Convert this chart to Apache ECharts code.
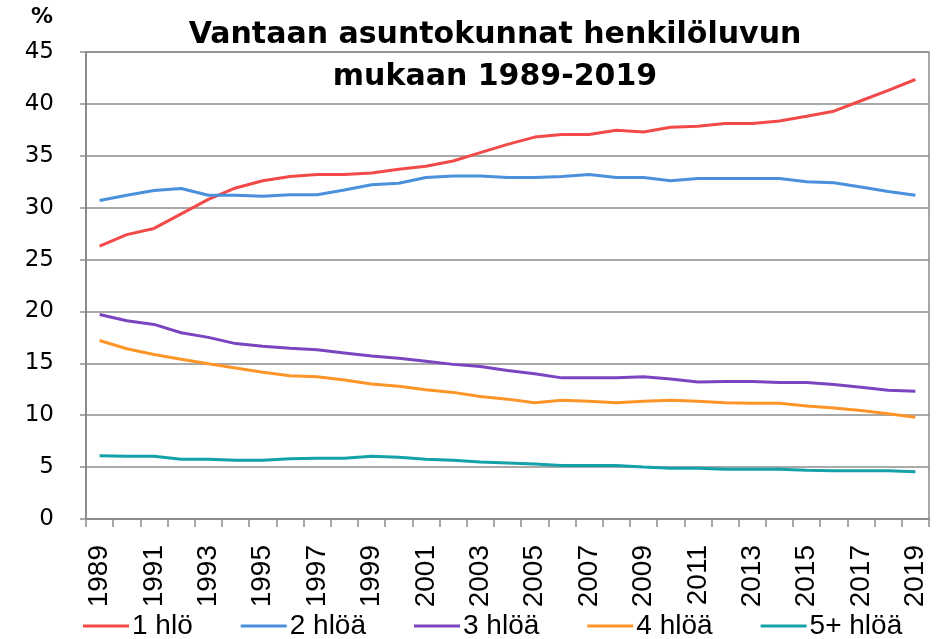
<!DOCTYPE html>
<html>
<head>
<meta charset="utf-8">
<script src="https://cdn.jsdelivr.net/npm/echarts@6/dist/echarts.min.js"></script>
<style>
  html, body { margin: 0; padding: 0; background: #fff; }
  #chart { width: 936px; height: 639px; }
</style>
</head>
<body>
<div id="chart"></div>
<script>
// vuodet 1989-2019
const years = []
for (let y = 1989; y <= 2019; y++) years.push(String(y))

const seriesNames = ['1 hlö', '2 hlöä', '3 hlöä', '4 hlöä', '5+ hlöä']
const seriesColors = ['#f24a48', '#4a90dc', '#7b45c2', '#ff9428', '#14a2a8']

const oneRoom = [26.3, 27.4, 28.0, 29.4, 30.8, 31.9, 32.6, 33.0, 33.2, 33.2, 33.35, 33.7, 34.0, 34.5, 35.3, 36.1,
  36.8, 37.05, 37.05, 37.45, 37.3, 37.75, 37.85, 38.1, 38.1, 38.35, 38.8, 39.3, 40.3, 41.3, 42.35]
const twoPersons = [30.7, 31.2, 31.65, 31.85, 31.2, 31.2, 31.1, 31.25, 31.25, 31.7, 32.2, 32.35, 32.9, 33.05, 33.05, 32.9,
  32.9, 33.0, 33.2, 32.9, 32.9, 32.6, 32.8, 32.8, 32.8, 32.8, 32.5, 32.4, 32.0, 31.55, 31.2]
const threePersons = [19.7, 19.1, 18.75, 17.95, 17.5, 16.9, 16.65, 16.45, 16.3, 16.0, 15.7, 15.5, 15.2, 14.9, 14.7, 14.3,
  14.0, 13.6, 13.6, 13.6, 13.7, 13.5, 13.2, 13.25, 13.25, 13.15, 13.15, 12.95, 12.7, 12.4, 12.3]
const fourPersons = [17.2, 16.4, 15.85, 15.4, 14.95, 14.55, 14.15, 13.8, 13.7, 13.4, 13.0, 12.8, 12.45, 12.2, 11.8, 11.55,
  11.2, 11.45, 11.35, 11.2, 11.35, 11.45, 11.35, 11.2, 11.15, 11.15, 10.9, 10.7, 10.45, 10.15, 9.8]
const fivePlus = [6.1, 6.05, 6.05, 5.75, 5.75, 5.65, 5.65, 5.8, 5.85, 5.85, 6.05, 5.95, 5.75, 5.65, 5.5, 5.4,
  5.3, 5.15, 5.15, 5.15, 5.0, 4.9, 4.9, 4.8, 4.8, 4.8, 4.7, 4.65, 4.65, 4.65, 4.55]

const allData = [oneRoom, twoPersons, threePersons, fourPersons, fivePlus]

const wideFont = '"DejaVu Sans", sans-serif'
const narrowFont = '"Liberation Sans", Arial, sans-serif'
const axisGray = '#8c8c8c'

const chart = echarts.init(document.getElementById('chart'))

const option = {
  animation: false,
  backgroundColor: '#fff',
  title: {
    text: 'Vantaan asuntokunnat henkilöluvun\nmukaan 1989-2019',
    left: 490,
    top: 9,
    textAlign: 'center',
    textStyle: {
      fontFamily: wideFont,
      fontSize: 30,
      fontWeight: 'bold',
      color: '#000',
      lineHeight: 42,
    },
  },
  grid: {
    left: 86,
    right: 7,
    top: 52,
    bottom: 120,
    show: true,
    borderColor: axisGray,
    borderWidth: 1.5,
  },
  legend: {
    bottom: -6,
    left: 78,
    icon: 'rect',
    itemWidth: 46,
    itemHeight: 3,
    itemGap: 48,
    textStyle: {
      fontFamily: narrowFont,
      fontSize: 28,
      color: '#000',
      padding: [0, 0, 0, -2],
    },
    data: seriesNames,
  },
  xAxis: {
    type: 'category',
    data: years,
    boundaryGap: true,
    axisLine: { lineStyle: { color: axisGray, width: 2 } },
    axisTick: { show: true, length: 8, interval: 0, lineStyle: { color: axisGray, width: 1.5 } },
    axisLabel: {
      interval: 1,
      rotate: 90,
      margin: 26,
      fontFamily: narrowFont,
      fontSize: 28,
      color: '#000',
    },
  },
  yAxis: {
    type: 'value',
    min: 0,
    max: 45,
    interval: 5,
    name: '%',
    nameLocation: 'end',
    nameGap: 24,
    nameTextStyle: {
      fontFamily: wideFont,
      fontSize: 22,
      fontWeight: 'bold',
      color: '#000',
      align: 'right',
      padding: [0, 33, 0, 0],
    },
    axisLine: { show: true, lineStyle: { color: axisGray, width: 2 } },
    axisTick: { show: true, length: 6, lineStyle: { color: axisGray, width: 1.5 } },
    axisLabel: {
      margin: 32,
      align: 'right',
      fontFamily: wideFont,
      fontSize: 23,
      color: '#000',
    },
    splitLine: { lineStyle: { color: axisGray, width: 1.5 } },
  },
  series: seriesNames.map((name, i) => ({
    name: name,
    type: 'line',
    data: allData[i],
    showSymbol: false,
    smooth: false,
    color: seriesColors[i],
    lineStyle: { width: 3, color: seriesColors[i] },
  })),
}

chart.setOption(option)
</script>
</body>
</html>
